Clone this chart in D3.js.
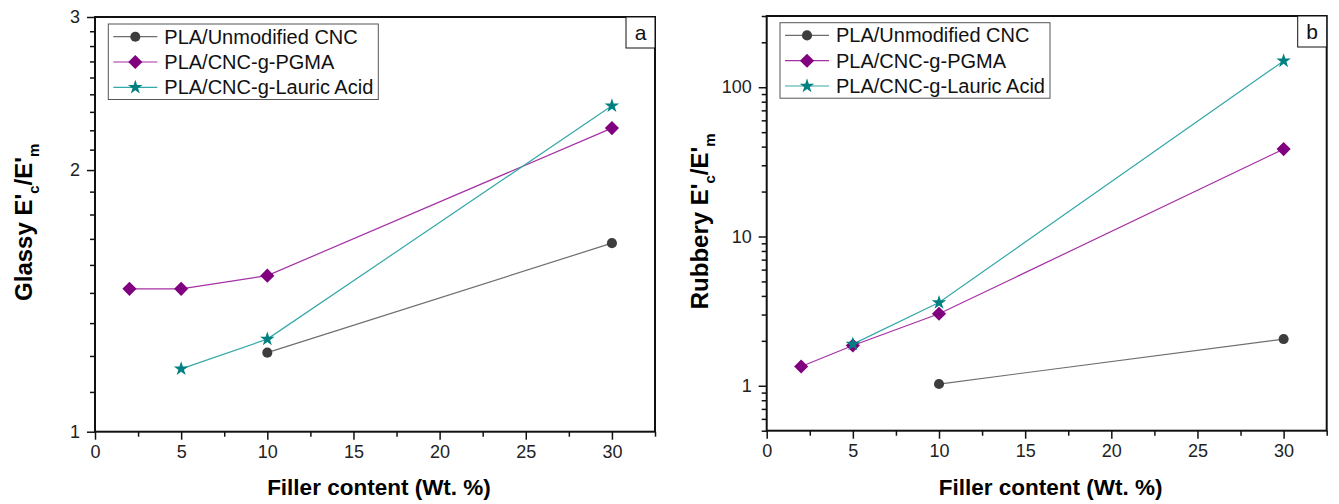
<!DOCTYPE html>
<html><head><meta charset="utf-8">
<script src="https://cdn.jsdelivr.net/npm/d3@7"></script>
<style>body{margin:0;background:#fff;} text{font-family:"Liberation Sans",Arial,sans-serif;}</style>
</head><body><svg id="c" width="1339" height="504"></svg>
<script>
// ---- data ----
const seriesNames = ["PLA/Unmodified CNC", "PLA/CNC-g-PGMA", "PLA/CNC-g-Lauric Acid"];
const xUnmod = [10, 30];
const xPGMA = [2, 5, 10, 30];
const xLauric = [5, 10, 30];
const glassyUnmod = [1.233, 1.648];
const glassyPGMA = [1.46, 1.46, 1.512, 2.235];
const glassyLauric = [1.181, 1.278, 2.371];
const rubberyUnmod = [1.027, 2.055];
const rubberyPGMA = [1.347, 1.862, 3.035, 38.5];
const rubberyLauric = [1.9, 3.61, 150];
const xTickLabels = [0, 5, 10, 15, 20, 25, 30];
const glassyTicks = [1, 2, 3];
const rubberyTicks = [1, 10, 100];

// ---- styles ----
const markerColors = ["#3d3d3d", "#800080", "#008080"];
const lineColors = ["#6e6e6e", "#a530a5", "#35a8a8"];
const symbols = [d3.symbolCircle, d3.symbolSquare, d3.symbolStar];
const symSizes = [80, 100, 66];
const symRot = [0, 45, 0];

const svg = d3.select("#c");

function panel(cfg) {
  const x = d3.scaleLinear().domain([0, 32.5]).range([cfg.x0, cfg.x1]);
  const y = d3.scaleLog().domain(cfg.ydomain).range([cfg.y1, cfg.y0]);
  const g = svg.append("g");

  // minor ticks
  const minorX = d3.range(2.5, 33, 5);
  g.append("g").attr("transform", `translate(0,${cfg.y1})`)
    .call(d3.axisBottom(x).tickValues(minorX).tickSize(5).tickFormat(""))
    .call(a => a.select(".domain").remove())
    .call(a => a.selectAll("line").attr("stroke", "#111").attr("stroke-width", 1.5));
  g.append("g").attr("transform", `translate(${cfg.x0},0)`)
    .call(d3.axisLeft(y).tickValues(cfg.minorY).tickSize(5).tickFormat(""))
    .call(a => a.select(".domain").remove())
    .call(a => a.selectAll("line").attr("stroke", "#111").attr("stroke-width", 1.5));

  // major ticks
  g.append("g").attr("transform", `translate(0,${cfg.y1})`)
    .call(d3.axisBottom(x).tickValues(xTickLabels).tickSize(8).tickPadding(6).tickFormat(d3.format("d")))
    .call(a => a.select(".domain").remove())
    .call(a => a.selectAll("line").attr("stroke", "#111").attr("stroke-width", 1.5))
    .call(a => a.selectAll("text").attr("font-size", 18).attr("fill", "#222")
      .attr("font-family", "Liberation Sans, Arial, sans-serif"));
  g.append("g").attr("transform", `translate(${cfg.x0},0)`)
    .call(d3.axisLeft(y).tickValues(cfg.majorY).tickSize(8).tickPadding(7).tickFormat(d3.format("d")))
    .call(a => a.select(".domain").remove())
    .call(a => a.selectAll("line").attr("stroke", "#111").attr("stroke-width", 1.5))
    .call(a => a.selectAll("text").attr("font-size", 18).attr("fill", "#222")
      .attr("font-family", "Liberation Sans, Arial, sans-serif"));

  // frame
  g.append("rect").attr("x", cfg.x0).attr("y", cfg.y0)
    .attr("width", cfg.x1 - cfg.x0).attr("height", cfg.y1 - cfg.y0)
    .attr("fill", "none").attr("stroke", "#111").attr("stroke-width", 2);

  // series
  const line = d3.line().x(d => x(d[0])).y(d => y(d[1]));
  cfg.series.forEach((s, i) => {
    const pts = s.xs.map((v, k) => [v, s.ys[k]]);
    g.append("path").datum(pts).attr("d", line)
      .attr("fill", "none").attr("stroke", lineColors[i]).attr("stroke-width", 1.2);
  });
  cfg.series.forEach((s, i) => {
    const pts = s.xs.map((v, k) => [v, s.ys[k]]);
    g.selectAll(null).data(pts).enter().append("path")
      .attr("d", d3.symbol().type(symbols[i]).size(symSizes[i]))
      .attr("transform", d => `translate(${x(d[0])},${y(d[1])}) rotate(${symRot[i]})`)
      .attr("fill", markerColors[i]);
  });

  // legend
  const lg = g.append("g").attr("transform", `translate(${cfg.lx},${cfg.ly})`);
  lg.append("rect").attr("x", 0).attr("y", 0).attr("width", 270).attr("height", 75.5)
    .attr("fill", "#fff").attr("stroke", "#555").attr("stroke-width", 1);
  seriesNames.forEach((n, i) => {
    const yy = 12.7 + i * 25.3;
    lg.append("line").attr("x1", 5).attr("x2", 49).attr("y1", yy).attr("y2", yy)
      .attr("stroke", lineColors[i]).attr("stroke-width", 1.2);
    lg.append("path").attr("d", d3.symbol().type(symbols[i]).size(symSizes[i]))
      .attr("transform", `translate(27,${yy}) rotate(${symRot[i]})`)
      .attr("fill", markerColors[i]);
    lg.append("text").attr("x", 56).attr("y", yy + 7).attr("font-size", 20)
      .attr("fill", "#111").text(n);
  });

  // panel letter box
  g.append("rect").attr("x", cfg.x1 - 29).attr("y", cfg.y0).attr("width", 29).attr("height", 31)
    .attr("fill", "#fff").attr("stroke", "#111").attr("stroke-width", 1);
  g.append("text").attr("x", cfg.x1 - 14.5).attr("y", cfg.y0 + 23).attr("text-anchor", "middle")
    .attr("font-size", 21).attr("fill", "#111").text(cfg.letter);

  // x title
  g.append("text").attr("x", (cfg.x0 + cfg.x1) / 2 + 4).attr("y", 495)
    .attr("text-anchor", "middle").attr("font-weight", "bold").attr("font-size", 22.5)
    .attr("fill", "#000").text("Filler content (Wt. %)");

  // y title
  const yt = g.append("text")
    .attr("transform", `translate(${cfg.tx},${(cfg.y0 + cfg.y1) / 2 - 2}) rotate(-90)`)
    .attr("text-anchor", "middle").attr("font-weight", "bold").attr("font-size", 24).attr("fill", "#000");
  yt.append("tspan").text(cfg.title + " E'");
  yt.append("tspan").attr("dy", 7).attr("font-size", 15).text("c");
  yt.append("tspan").attr("dy", -7).text("/E'");
  yt.append("tspan").attr("dy", 7).attr("font-size", 15).text("m");
}

const minorGlassy = [];
[1, 2].forEach(b => { for (let k = 1; k < 9; k++) minorGlassy.push(b + k / 9); });
const minorRubbery = [];
[0.1, 1, 10, 100].forEach(b => { for (let k = 2; k < 10; k++) { const v = b * k; if (v >= 0.5 && v <= 300) minorRubbery.push(v); } });

panel({
  x0: 95, x1: 655, y0: 17, y1: 431.7, ydomain: [1, 3],
  majorY: glassyTicks, minorY: minorGlassy, title: "Glassy", letter: "a",
  lx: 108.3, ly: 24, tx: 32,
  series: [{xs: xUnmod, ys: glassyUnmod}, {xs: xPGMA, ys: glassyPGMA}, {xs: xLauric, ys: glassyLauric}]
});
panel({
  x0: 766.7, x1: 1326.7, y0: 16, y1: 430.7, ydomain: [0.5, 300],
  majorY: rubberyTicks, minorY: minorRubbery, title: "Rubbery", letter: "b",
  lx: 780, ly: 22.7, tx: 708,
  series: [{xs: xUnmod, ys: rubberyUnmod}, {xs: xPGMA, ys: rubberyPGMA}, {xs: xLauric, ys: rubberyLauric}]
});
</script></body></html>
